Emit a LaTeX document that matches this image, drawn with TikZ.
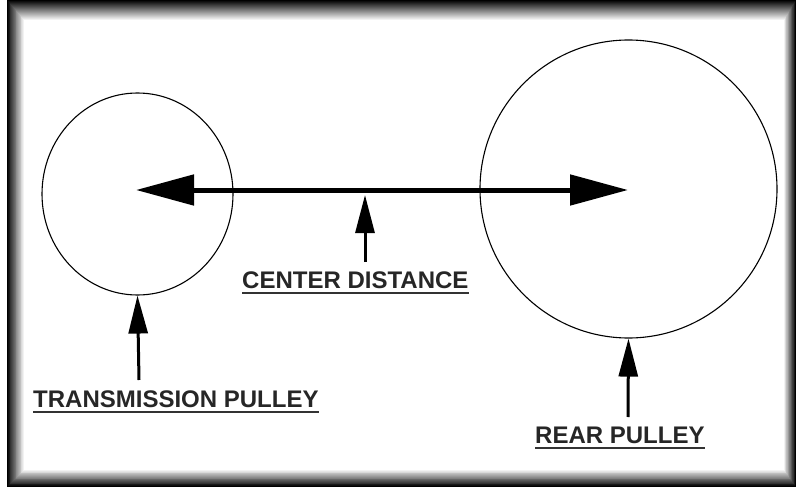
\documentclass[tikz,border=0pt]{standalone}
\usepackage{fontspec}
\setmainfont{Liberation Sans}
\usetikzlibrary{arrows.meta,shapes.geometric}
\begin{document}
\begin{tikzpicture}[x=1pt,y=-1pt,
  pulley/.style={ellipse,draw=black,line width=1.1pt,inner sep=0pt},
  label/.style={anchor=base west,inner sep=0pt,font=\fontsize{24}{28}\selectfont\bfseries,text=black!85},
  bigarrow/.style={line width=5pt,-{Triangle[length=58pt,width=30pt]}},
  ptr/.style={line width=3pt,-{Triangle[length=38pt,width=19pt]}},
  uline/.style={line width=1.6pt,draw=black!80}]
\useasboundingbox (0,0) rectangle (796,487);
\fill[white] (0,0) rectangle (796,487);
% frame with shaded inner edge
\foreach \i in {0,...,20}{
  \pgfmathtruncatemacro{\pc}{5*\i}
  \pgfmathsetmacro{\t}{\i/20}
  \fill[white!\pc!black] ({7+17*\t},{20*\t}) rectangle ({796-12*\t},{487-17*\t});
}
% pulleys
\node[pulley,minimum width=191pt,minimum height=202pt] (lp) at (137.5,194) {};
\node[pulley,minimum width=297pt,minimum height=298pt] (rp) at (628.5,189) {};
\coordinate (lc) at (136,190);
\coordinate (rc) at (628,190);
% center distance arrow
\draw[line width=5pt] (195,190) -- (565,190);
\draw[bigarrow] (250,190) -- (lc);
\draw[bigarrow] (480,190) -- (rc);
% labels
\node[label] (cd) at (242,288) {CENTER DISTANCE};
\node[label] (tp) at (33,407) {TRANSMISSION PULLEY};
\node[label] (rpl) at (535,443) {REAR PULLEY};
\draw[uline] ([yshift=-5pt]cd.base west) -- ([yshift=-5pt]cd.base east);
\draw[uline] ([yshift=-5pt]tp.base west) -- ([yshift=-5pt]tp.base east);
\draw[uline] ([yshift=-5pt]rpl.base west) -- ([yshift=-5pt]rpl.base east);
% pointers
\coordinate (cdtail) at (365,262);
\coordinate (cdtip) at (365,195);
\coordinate (tptail) at (139,380);
\coordinate (rptail) at (628,417);
\draw[ptr] (cdtail) -- (cdtip);
\draw[ptr] (tptail) -- (lp.south);
\draw[ptr] (rptail) -- (rp.south);
\end{tikzpicture}
\end{document}
